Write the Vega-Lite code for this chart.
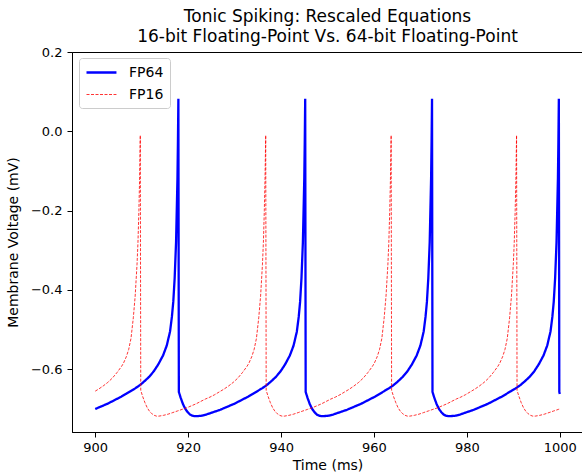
{
"$schema": "https://vega.github.io/schema/vega-lite/v6.json",
"width": 511, "height": 380,
"autosize": {"type": "none"},
"padding": {"left": 72, "top": 52, "right": 0, "bottom": 43},
"background": "white",
"title": {"text": ["Tonic Spiking: Rescaled Equations", "16-bit Floating-Point Vs. 64-bit Floating-Point"], "font": "DejaVu Sans", "fontSize": 17, "fontWeight": "normal", "color": "black", "anchor": "middle", "frame": "group", "offset": 0, "lineHeight": 20},
"config": {
  "view": {"stroke": "black", "strokeWidth": 1},
  "axis": {"grid": false, "domainColor": "black", "tickColor": "black", "labelColor": "black", "titleColor": "black", "labelFont": "DejaVu Sans", "titleFont": "DejaVu Sans", "labelFontSize": 13, "titleFontSize": 14, "titleFontWeight": "normal", "tickSize": 5, "domainWidth": 1, "tickWidth": 1}
},
"data": {"values": [
{"s":"FP64","t":900,"v":-0.700},{"s":"FP64","t":900.6,"v":-0.697},{"s":"FP64","t":901.6,"v":-0.692},{"s":"FP64","t":902.6,"v":-0.687},{"s":"FP64","t":903.6,"v":-0.681},{"s":"FP64","t":904.6,"v":-0.675},{"s":"FP64","t":905.6,"v":-0.669},{"s":"FP64","t":906.6,"v":-0.662},{"s":"FP64","t":907.6,"v":-0.655},{"s":"FP64","t":908.6,"v":-0.648},{"s":"FP64","t":909.6,"v":-0.640},{"s":"FP64","t":910.6,"v":-0.630},{"s":"FP64","t":911.6,"v":-0.619},{"s":"FP64","t":912.6,"v":-0.605},{"s":"FP64","t":913.6,"v":-0.587},{"s":"FP64","t":914.6,"v":-0.565},{"s":"FP64","t":915.4,"v":-0.540},{"s":"FP64","t":916.1,"v":-0.505},{"s":"FP64","t":916.5,"v":-0.468},{"s":"FP64","t":916.8,"v":-0.430},{"s":"FP64","t":917.1,"v":-0.370},{"s":"FP64","t":917.4,"v":-0.280},{"s":"FP64","t":917.6,"v":-0.174},{"s":"FP64","t":917.7,"v":-0.120},{"s":"FP64","t":917.8,"v":-0.030},{"s":"FP64","t":917.9,"v":0.082},
{"s":"FP64","t":918.0,"v":-0.657},{"s":"FP64","t":918.4,"v":-0.672},{"s":"FP64","t":918.9,"v":-0.688},{"s":"FP64","t":919.4,"v":-0.700},{"s":"FP64","t":919.9,"v":-0.708},{"s":"FP64","t":920.4,"v":-0.714},{"s":"FP64","t":920.9,"v":-0.717},{"s":"FP64","t":921.4,"v":-0.718},{"s":"FP64","t":921.9,"v":-0.718},{"s":"FP64","t":922.9,"v":-0.717},{"s":"FP64","t":923.9,"v":-0.714},{"s":"FP64","t":924.9,"v":-0.710},{"s":"FP64","t":925.9,"v":-0.706},{"s":"FP64","t":926.9,"v":-0.702},{"s":"FP64","t":927.9,"v":-0.697},{"s":"FP64","t":928.9,"v":-0.692},{"s":"FP64","t":929.9,"v":-0.687},{"s":"FP64","t":930.9,"v":-0.681},{"s":"FP64","t":931.9,"v":-0.675},{"s":"FP64","t":932.9,"v":-0.669},{"s":"FP64","t":933.9,"v":-0.662},{"s":"FP64","t":934.9,"v":-0.655},{"s":"FP64","t":935.9,"v":-0.648},{"s":"FP64","t":936.9,"v":-0.640},{"s":"FP64","t":937.9,"v":-0.630},{"s":"FP64","t":938.9,"v":-0.619},{"s":"FP64","t":939.9,"v":-0.605},{"s":"FP64","t":940.9,"v":-0.587},{"s":"FP64","t":941.9,"v":-0.565},{"s":"FP64","t":942.7,"v":-0.540},{"s":"FP64","t":943.4,"v":-0.505},{"s":"FP64","t":943.8,"v":-0.468},{"s":"FP64","t":944.1,"v":-0.430},{"s":"FP64","t":944.4,"v":-0.370},{"s":"FP64","t":944.7,"v":-0.280},{"s":"FP64","t":944.9,"v":-0.174},{"s":"FP64","t":945.0,"v":-0.120},{"s":"FP64","t":945.1,"v":-0.030},{"s":"FP64","t":945.2,"v":0.082},
{"s":"FP64","t":945.3,"v":-0.657},{"s":"FP64","t":945.7,"v":-0.672},{"s":"FP64","t":946.2,"v":-0.688},{"s":"FP64","t":946.7,"v":-0.700},{"s":"FP64","t":947.2,"v":-0.708},{"s":"FP64","t":947.7,"v":-0.714},{"s":"FP64","t":948.2,"v":-0.717},{"s":"FP64","t":948.7,"v":-0.718},{"s":"FP64","t":949.2,"v":-0.718},{"s":"FP64","t":950.2,"v":-0.717},{"s":"FP64","t":951.2,"v":-0.714},{"s":"FP64","t":952.2,"v":-0.710},{"s":"FP64","t":953.2,"v":-0.706},{"s":"FP64","t":954.2,"v":-0.702},{"s":"FP64","t":955.2,"v":-0.697},{"s":"FP64","t":956.2,"v":-0.692},{"s":"FP64","t":957.2,"v":-0.687},{"s":"FP64","t":958.2,"v":-0.681},{"s":"FP64","t":959.2,"v":-0.675},{"s":"FP64","t":960.2,"v":-0.669},{"s":"FP64","t":961.2,"v":-0.662},{"s":"FP64","t":962.2,"v":-0.655},{"s":"FP64","t":963.2,"v":-0.648},{"s":"FP64","t":964.2,"v":-0.640},{"s":"FP64","t":965.2,"v":-0.630},{"s":"FP64","t":966.2,"v":-0.619},{"s":"FP64","t":967.2,"v":-0.605},{"s":"FP64","t":968.2,"v":-0.587},{"s":"FP64","t":969.2,"v":-0.565},{"s":"FP64","t":970.0,"v":-0.540},{"s":"FP64","t":970.7,"v":-0.505},{"s":"FP64","t":971.1,"v":-0.468},{"s":"FP64","t":971.4,"v":-0.430},{"s":"FP64","t":971.7,"v":-0.370},{"s":"FP64","t":972.0,"v":-0.280},{"s":"FP64","t":972.2,"v":-0.174},{"s":"FP64","t":972.3,"v":-0.120},{"s":"FP64","t":972.4,"v":-0.030},{"s":"FP64","t":972.5,"v":0.082},
{"s":"FP64","t":972.6,"v":-0.657},{"s":"FP64","t":973.0,"v":-0.672},{"s":"FP64","t":973.5,"v":-0.688},{"s":"FP64","t":974.0,"v":-0.700},{"s":"FP64","t":974.5,"v":-0.708},{"s":"FP64","t":975.0,"v":-0.714},{"s":"FP64","t":975.5,"v":-0.717},{"s":"FP64","t":976.0,"v":-0.718},{"s":"FP64","t":976.5,"v":-0.718},{"s":"FP64","t":977.5,"v":-0.717},{"s":"FP64","t":978.5,"v":-0.714},{"s":"FP64","t":979.5,"v":-0.710},{"s":"FP64","t":980.5,"v":-0.706},{"s":"FP64","t":981.5,"v":-0.702},{"s":"FP64","t":982.5,"v":-0.697},{"s":"FP64","t":983.5,"v":-0.692},{"s":"FP64","t":984.5,"v":-0.687},{"s":"FP64","t":985.5,"v":-0.681},{"s":"FP64","t":986.5,"v":-0.675},{"s":"FP64","t":987.5,"v":-0.669},{"s":"FP64","t":988.5,"v":-0.662},{"s":"FP64","t":989.5,"v":-0.655},{"s":"FP64","t":990.5,"v":-0.648},{"s":"FP64","t":991.5,"v":-0.640},{"s":"FP64","t":992.5,"v":-0.630},{"s":"FP64","t":993.5,"v":-0.619},{"s":"FP64","t":994.5,"v":-0.605},{"s":"FP64","t":995.5,"v":-0.587},{"s":"FP64","t":996.5,"v":-0.565},{"s":"FP64","t":997.3,"v":-0.540},{"s":"FP64","t":998.0,"v":-0.505},{"s":"FP64","t":998.4,"v":-0.468},{"s":"FP64","t":998.7,"v":-0.430},{"s":"FP64","t":999.0,"v":-0.370},{"s":"FP64","t":999.3,"v":-0.280},{"s":"FP64","t":999.5,"v":-0.174},{"s":"FP64","t":999.6,"v":-0.120},{"s":"FP64","t":999.7,"v":-0.030},{"s":"FP64","t":999.8,"v":0.082},{"s":"FP64","t":999.9,"v":-0.657},{"s":"FP64","t":1000.0,"v":-0.662},
{"s":"FP16","t":900.0,"v":-0.655},{"s":"FP16","t":900.7,"v":-0.650},{"s":"FP16","t":901.7,"v":-0.642},{"s":"FP16","t":902.7,"v":-0.633},{"s":"FP16","t":903.7,"v":-0.622},{"s":"FP16","t":904.7,"v":-0.608},{"s":"FP16","t":905.7,"v":-0.592},{"s":"FP16","t":906.1,"v":-0.584},{"s":"FP16","t":906.7,"v":-0.568},{"s":"FP16","t":907.2,"v":-0.550},{"s":"FP16","t":907.7,"v":-0.522},{"s":"FP16","t":908.2,"v":-0.470},{"s":"FP16","t":908.6,"v":-0.415},{"s":"FP16","t":909.0,"v":-0.335},{"s":"FP16","t":909.2,"v":-0.280},{"s":"FP16","t":909.4,"v":-0.200},{"s":"FP16","t":909.55,"v":-0.120},{"s":"FP16","t":909.7,"v":-0.010},
{"s":"FP16","t":909.8,"v":-0.653},{"s":"FP16","t":910.2,"v":-0.668},{"s":"FP16","t":910.7,"v":-0.684},{"s":"FP16","t":911.2,"v":-0.697},{"s":"FP16","t":911.7,"v":-0.706},{"s":"FP16","t":912.2,"v":-0.712},{"s":"FP16","t":912.7,"v":-0.716},{"s":"FP16","t":913.2,"v":-0.718},{"s":"FP16","t":913.7,"v":-0.718},{"s":"FP16","t":914.7,"v":-0.716},{"s":"FP16","t":915.7,"v":-0.713},{"s":"FP16","t":916.7,"v":-0.709},{"s":"FP16","t":917.7,"v":-0.705},{"s":"FP16","t":918.7,"v":-0.701},{"s":"FP16","t":919.7,"v":-0.697},{"s":"FP16","t":920.7,"v":-0.692},{"s":"FP16","t":921.7,"v":-0.687},{"s":"FP16","t":922.7,"v":-0.681},{"s":"FP16","t":923.7,"v":-0.675},{"s":"FP16","t":924.7,"v":-0.670},{"s":"FP16","t":925.7,"v":-0.664},{"s":"FP16","t":926.7,"v":-0.657},{"s":"FP16","t":927.7,"v":-0.650},{"s":"FP16","t":928.7,"v":-0.642},{"s":"FP16","t":929.7,"v":-0.633},{"s":"FP16","t":930.7,"v":-0.622},{"s":"FP16","t":931.7,"v":-0.608},{"s":"FP16","t":932.7,"v":-0.592},{"s":"FP16","t":933.1,"v":-0.584},{"s":"FP16","t":933.7,"v":-0.568},{"s":"FP16","t":934.2,"v":-0.550},{"s":"FP16","t":934.7,"v":-0.522},{"s":"FP16","t":935.2,"v":-0.470},{"s":"FP16","t":935.6,"v":-0.415},{"s":"FP16","t":936.0,"v":-0.335},{"s":"FP16","t":936.2,"v":-0.280},{"s":"FP16","t":936.4,"v":-0.200},{"s":"FP16","t":936.55,"v":-0.120},{"s":"FP16","t":936.7,"v":-0.010},
{"s":"FP16","t":936.8,"v":-0.653},{"s":"FP16","t":937.2,"v":-0.668},{"s":"FP16","t":937.7,"v":-0.684},{"s":"FP16","t":938.2,"v":-0.697},{"s":"FP16","t":938.7,"v":-0.706},{"s":"FP16","t":939.2,"v":-0.712},{"s":"FP16","t":939.7,"v":-0.716},{"s":"FP16","t":940.2,"v":-0.718},{"s":"FP16","t":940.7,"v":-0.718},{"s":"FP16","t":941.7,"v":-0.716},{"s":"FP16","t":942.7,"v":-0.713},{"s":"FP16","t":943.7,"v":-0.709},{"s":"FP16","t":944.7,"v":-0.705},{"s":"FP16","t":945.7,"v":-0.701},{"s":"FP16","t":946.7,"v":-0.697},{"s":"FP16","t":947.7,"v":-0.692},{"s":"FP16","t":948.7,"v":-0.687},{"s":"FP16","t":949.7,"v":-0.681},{"s":"FP16","t":950.7,"v":-0.675},{"s":"FP16","t":951.7,"v":-0.670},{"s":"FP16","t":952.7,"v":-0.664},{"s":"FP16","t":953.7,"v":-0.657},{"s":"FP16","t":954.7,"v":-0.650},{"s":"FP16","t":955.7,"v":-0.642},{"s":"FP16","t":956.7,"v":-0.633},{"s":"FP16","t":957.7,"v":-0.622},{"s":"FP16","t":958.7,"v":-0.608},{"s":"FP16","t":959.7,"v":-0.592},{"s":"FP16","t":960.1,"v":-0.584},{"s":"FP16","t":960.7,"v":-0.568},{"s":"FP16","t":961.2,"v":-0.550},{"s":"FP16","t":961.7,"v":-0.522},{"s":"FP16","t":962.2,"v":-0.470},{"s":"FP16","t":962.6,"v":-0.415},{"s":"FP16","t":963.0,"v":-0.335},{"s":"FP16","t":963.2,"v":-0.280},{"s":"FP16","t":963.4,"v":-0.200},{"s":"FP16","t":963.55,"v":-0.120},{"s":"FP16","t":963.7,"v":-0.010},
{"s":"FP16","t":963.8,"v":-0.653},{"s":"FP16","t":964.2,"v":-0.668},{"s":"FP16","t":964.7,"v":-0.684},{"s":"FP16","t":965.2,"v":-0.697},{"s":"FP16","t":965.7,"v":-0.706},{"s":"FP16","t":966.2,"v":-0.712},{"s":"FP16","t":966.7,"v":-0.716},{"s":"FP16","t":967.2,"v":-0.718},{"s":"FP16","t":967.7,"v":-0.718},{"s":"FP16","t":968.7,"v":-0.716},{"s":"FP16","t":969.7,"v":-0.713},{"s":"FP16","t":970.7,"v":-0.709},{"s":"FP16","t":971.7,"v":-0.705},{"s":"FP16","t":972.7,"v":-0.701},{"s":"FP16","t":973.7,"v":-0.697},{"s":"FP16","t":974.7,"v":-0.692},{"s":"FP16","t":975.7,"v":-0.687},{"s":"FP16","t":976.7,"v":-0.681},{"s":"FP16","t":977.7,"v":-0.675},{"s":"FP16","t":978.7,"v":-0.670},{"s":"FP16","t":979.7,"v":-0.664},{"s":"FP16","t":980.7,"v":-0.657},{"s":"FP16","t":981.7,"v":-0.650},{"s":"FP16","t":982.7,"v":-0.642},{"s":"FP16","t":983.7,"v":-0.633},{"s":"FP16","t":984.7,"v":-0.622},{"s":"FP16","t":985.7,"v":-0.608},{"s":"FP16","t":986.7,"v":-0.592},{"s":"FP16","t":987.1,"v":-0.584},{"s":"FP16","t":987.7,"v":-0.568},{"s":"FP16","t":988.2,"v":-0.550},{"s":"FP16","t":988.7,"v":-0.522},{"s":"FP16","t":989.2,"v":-0.470},{"s":"FP16","t":989.6,"v":-0.415},{"s":"FP16","t":990.0,"v":-0.335},{"s":"FP16","t":990.2,"v":-0.280},{"s":"FP16","t":990.4,"v":-0.200},{"s":"FP16","t":990.55,"v":-0.120},{"s":"FP16","t":990.7,"v":-0.010},
{"s":"FP16","t":990.8,"v":-0.653},{"s":"FP16","t":991.2,"v":-0.668},{"s":"FP16","t":991.7,"v":-0.684},{"s":"FP16","t":992.2,"v":-0.697},{"s":"FP16","t":992.7,"v":-0.706},{"s":"FP16","t":993.2,"v":-0.712},{"s":"FP16","t":993.7,"v":-0.716},{"s":"FP16","t":994.2,"v":-0.718},{"s":"FP16","t":994.7,"v":-0.718},{"s":"FP16","t":995.7,"v":-0.716},{"s":"FP16","t":996.7,"v":-0.713},{"s":"FP16","t":997.7,"v":-0.709},{"s":"FP16","t":998.7,"v":-0.705},{"s":"FP16","t":999.7,"v":-0.701},{"s":"FP16","t":1000.0,"v":-0.700}
]},
"mark": {"type": "line", "clip": true},
"encoding": {
  "x": {"field": "t", "type": "quantitative", "scale": {"domain": [895, 1005], "nice": false, "zero": false}, "axis": {"values": [900, 920, 940, 960, 980, 1000], "format": "d", "title": "Time (ms)", "titlePadding": 4, "labelPadding": 4}},
  "y": {"field": "v", "type": "quantitative", "scale": {"domain": [-0.758, 0.2], "nice": false, "zero": false}, "axis": {"values": [-0.6, -0.4, -0.2, 0, 0.2], "format": ".1f", "title": "Membrane Voltage (mV)", "titlePadding": 10, "labelPadding": 5}},
  "color": {"field": "s", "type": "nominal", "scale": {"domain": ["FP64", "FP16"], "range": ["#0000ff", "#ff0000"]},
    "legend": {"title": null, "orient": "none", "legendX": 7, "legendY": 6, "strokeColor": "#cccccc", "fillColor": "rgba(255,255,255,0.8)", "cornerRadius": 3, "padding": 6, "symbolType": "M-1,0H3.28", "symbolSize": 196, "labelFont": "DejaVu Sans", "labelFontSize": 14, "labelColor": "black", "labelOffset": 27, "rowPadding": 7}},
  "strokeDash": {"field": "s", "type": "nominal", "scale": {"domain": ["FP64", "FP16"], "range": [[1, 0], [3, 1.5]]}},
  "strokeWidth": {"field": "s", "type": "nominal", "scale": {"type": "ordinal", "domain": ["FP64", "FP16"], "range": [2.3, 0.8]}}
}
}
